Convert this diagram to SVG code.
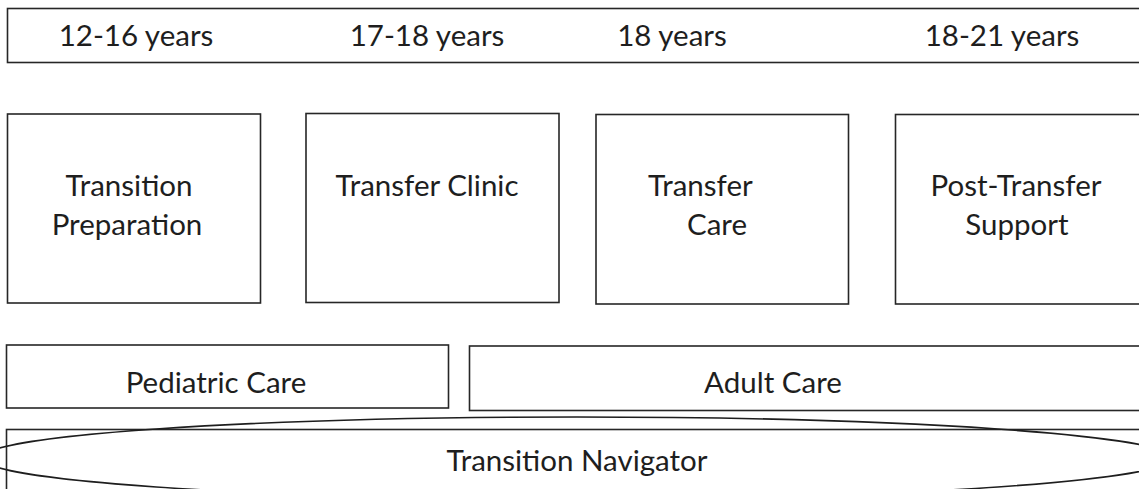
<svg xmlns="http://www.w3.org/2000/svg" width="1139" height="489" viewBox="0 0 1139 489">
<style>
.box{fill:#fff;stroke:#262626;stroke-width:1.6}
.t{font-family:Lato,"Open Sans","Liberation Sans",sans-serif;font-size:29.5px;fill:#1e1e1e;text-anchor:middle}
.s{text-anchor:start}
.ell{fill:none;stroke:#1e1e1e;stroke-width:1.6}
</style>
<rect width="1139" height="489" fill="#fff"/>
<g id="ages">
<rect class="box" x="7.5" y="8.5" width="1140" height="54"/>
<text class="t" x="136" y="46">12-16 years</text>
<text class="t" x="427" y="46">17-18 years</text>
<text class="t" x="672" y="46">18 years</text>
<text class="t" x="1002" y="46">18-21 years</text>
</g>
<g id="transition-preparation">
<rect class="box" x="7.5" y="114" width="253" height="189"/>
<text class="t" x="129" y="196">Transition</text>
<text class="t" x="127" y="235">Preparation</text>
</g>
<g id="transfer-clinic">
<rect class="box" x="306" y="113.5" width="253" height="189"/>
<text class="t" x="427" y="196">Transfer Clinic</text>
</g>
<g id="transfer-care">
<rect class="box" x="596" y="114.5" width="252.5" height="189.5"/>
<text class="t s" x="648" y="196">Transfer</text>
<text class="t s" x="687" y="235">Care</text>
</g>
<g id="post-transfer-support">
<rect class="box" x="895.5" y="114.5" width="260" height="189.5"/>
<text class="t" x="1016" y="196">Post-Transfer</text>
<text class="t" x="1017" y="235">Support</text>
</g>
<g id="pediatric-care">
<rect class="box" x="6.5" y="345" width="442" height="63"/>
<text class="t" x="216" y="393">Pediatric Care</text>
</g>
<g id="adult-care">
<rect class="box" x="469.5" y="346" width="680" height="64.5"/>
<text class="t" x="773" y="393">Adult Care</text>
</g>
<g id="transition-navigator">
<rect class="box" x="6.5" y="429.5" width="1145" height="70"/>
<ellipse class="ell" cx="577" cy="458" rx="595" ry="41"/>
<text class="t" x="577" y="471">Transition Navigator</text>
</g>
<g id="connectors"></g>
</svg>
